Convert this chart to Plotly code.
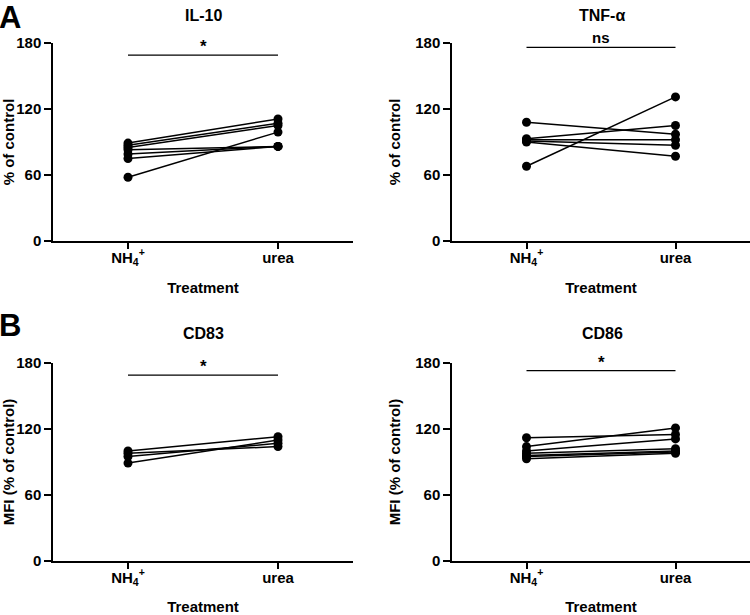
import plotly.graph_objects as go

# paired values per donor (% of control)
treatments = ["NH<sub>4</sub><sup>+</sup>", "urea"]

il10_nh4 = [89, 87, 85, 83, 79, 75, 58]
il10_urea = [111, 107, 105, 86, 86, 86, 99]

tnf_nh4 = [108, 68, 93, 92, 91, 90]
tnf_urea = [97, 131, 105, 92, 87, 77]

cd83_nh4 = [100, 98, 95, 89]
cd83_urea = [113, 104, 107, 110]

cd86_nh4 = [112, 104, 100, 98, 96, 95, 93]
cd86_urea = [115, 121, 111, 102, 100, 99, 98]

titles = ["IL-10", "TNF-α", "CD83", "CD86"]
ytitles = ["% of control", "% of control", "MFI (% of control)", "MFI (% of control)"]
sig_labels = ["*", "ns", "*", "*"]
sig_heights = [169, 176, 169, 173]

panels = [(il10_nh4, il10_urea), (tnf_nh4, tnf_urea),
          (cd83_nh4, cd83_urea), (cd86_nh4, cd86_urea)]

FONT = "Arial, Liberation Sans, sans-serif"
W, H = 750, 615

# subplot boxes in pixels: (left, right, top, bottom)
boxes = [(53, 353, 43, 241), (452, 750, 43, 241),
         (53, 353, 363, 561), (452, 750, 363, 561)]

fig = go.Figure()
layout = dict(width=W, height=H, margin=dict(l=0, r=0, t=0, b=0),
              plot_bgcolor="white", paper_bgcolor="white",
              showlegend=False, font=dict(family=FONT, color="black"))
annots = []

for i, ((nh4, urea), box) in enumerate(zip(panels, boxes)):
    n = "" if i == 0 else str(i + 1)
    xa, ya = "x" + n, "y" + n
    for a, b in zip(nh4, urea):
        fig.add_trace(go.Scatter(x=treatments, y=[a, b], xaxis=xa, yaxis=ya,
                                 mode="lines+markers",
                                 line=dict(color="black", width=1.5),
                                 marker=dict(color="black", size=9),
                                 cliponaxis=False, hoverinfo="skip"))
    # significance bar
    fig.add_trace(go.Scatter(x=treatments, y=[sig_heights[i]] * 2, xaxis=xa, yaxis=ya,
                             mode="lines", line=dict(color="black", width=1.3),
                             cliponaxis=False, hoverinfo="skip"))
    annots.append(dict(x=0.5, y=sig_heights[i], xref=xa, yref=ya, text="<b>%s</b>" % sig_labels[i],
                       showarrow=False, yanchor="bottom", yshift=-3 if sig_labels[i] == "*" else -1,
                       font=dict(size=17 if sig_labels[i] == "*" else 15, family=FONT)))
    l, r, t, b = box
    layout["xaxis" + n] = dict(domain=[l / W, r / W], type="category", range=[-0.5, 1.5],
                               anchor=ya, showline=True, linecolor="black", linewidth=1.5,
                               ticks="outside", ticklen=6, tickwidth=1.5, tickcolor="black",
                               showgrid=False, zeroline=False, automargin=False,
                               ticklabelstandoff=-4,
                               tickfont=dict(size=15, weight="bold", family=FONT),
                               title=dict(text="<b>Treatment</b>", font=dict(size=15, family=FONT),
                                          standoff=16))
    layout["yaxis" + n] = dict(domain=[(H - b) / H, (H - t) / H], range=[0, 180],
                               tickvals=[0, 60, 120, 180], anchor=xa,
                               showline=True, linecolor="black", linewidth=1.5,
                               ticks="outside", ticklen=7, tickwidth=1.5, tickcolor="black",
                               showgrid=False, zeroline=False, automargin=False,
                               tickfont=dict(size=15, weight="bold", family=FONT),
                               title=dict(text="<b>%s</b>" % ytitles[i], font=dict(size=15, family=FONT),
                                          standoff=11))
    annots.append(dict(x=(l + 150) / W, y=1 - (15 if i < 2 else 333) / H, xref="paper", yref="paper",
                       text="<b>%s</b>" % titles[i], showarrow=False,
                       xanchor="center", yanchor="middle",
                       font=dict(size=16, family=FONT)))

for letter, ytop in [("A", 0), ("B", 308)]:
    annots.append(dict(x=0, y=1 - ytop / H, xref="paper", yref="paper", text="<b>%s</b>" % letter,
                       showarrow=False, xanchor="left", yanchor="top", xshift=-3, yshift=2,
                       font=dict(size=31, family=FONT)))

layout["annotations"] = annots
fig.update_layout(**layout)
fig.write_html("out.html", config={"displayModeBar": False},
               post_script="document.body.style.margin='0';")
